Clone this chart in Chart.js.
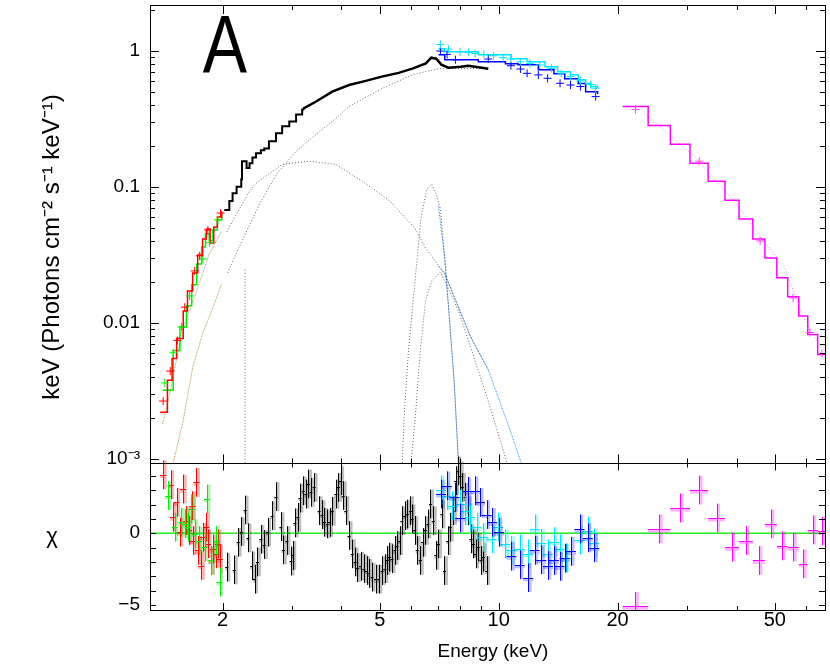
<!DOCTYPE html>
<html lang="en">
<head>
<meta charset="UTF-8">
<title>Spectrum A</title>
<style>
  html, body { margin: 0; padding: 0; background: #fff; }
  #wrap { width: 830px; height: 664px; }
</style>
</head>
<body>
<div id="wrap"><canvas id="specChart" width="830" height="664"></canvas></div>
<script src="https://cdn.jsdelivr.net/npm/chart.js@4.4.1/dist/chart.umd.min.js"></script>
<script>
const FONT = '"Liberation Sans", Arial, sans-serif';

// axis ranges and ticks
const xMin = 1.31, xMax = 67;
const fMin = 0.00092, fMax = 2.17;
const chiMin = -5.35, chiMax = 4.86;
const xMajor = [2, 5, 10, 20, 50];
const xMinor = [3, 4, 6, 7, 8, 9, 30, 40, 60];
const fMajor = [0.001, 0.01, 0.1, 1];
const fLabels = ['10⁻³', '0.01', '0.1', '1'];
const chiMajor = [-5, 0];
const chiLabels = ['−5', '0'];
const chiMinor = [-4, -3, -2, -1, 1, 2, 3, 4];

// --- total models (step starts, last = end) ---
const redModelE = [1.39, 1.45, 1.49, 1.53, 1.59, 1.63, 1.68, 1.73, 1.78, 1.82, 1.86, 1.90, 1.94, 1.99];
const redModelF = [0.00219, 0.00376, 0.00544, 0.00763, 0.0122, 0.0171, 0.0232, 0.0315, 0.0412, 0.0489, 0.0386, 0.0505, 0.0598, 0.066];
const greenModelE = [1.41, 1.50, 1.56, 1.62, 1.67, 1.72, 1.77, 1.81, 1.85, 1.89, 1.94, 1.99];
const greenModelF = [0.00318, 0.00624, 0.0093, 0.0133, 0.019, 0.027, 0.036, 0.045, 0.040, 0.048, 0.057, 0.062];
const blackStepE = [2.02, 2.08, 2.12, 2.17, 2.23, 2.24, 2.30, 2.34, 2.38, 2.43, 2.50, 2.55, 2.62, 2.73, 2.83, 2.95, 3.07, 3.18, 3.20];
const blackStepF = [0.0673, 0.0783, 0.0896, 0.1, 0.1135, 0.154, 0.137, 0.149, 0.164, 0.176, 0.185, 0.191, 0.216, 0.247, 0.278, 0.302, 0.34, 0.37, 0.375];
const blackSmoothE = [3.20, 3.45, 3.79, 4.18, 4.61, 5.06, 5.58, 6.07, 6.54, 6.75, 6.95, 7.16, 7.46, 8.02, 8.38, 9.41];
const blackSmoothF = [0.375, 0.423, 0.50, 0.56, 0.60, 0.645, 0.687, 0.742, 0.807, 0.889, 0.874, 0.79, 0.751, 0.763, 0.776, 0.738];
const cyanModelE = [7.04, 7.3, 8.88, 10.75, 11.8, 13.1, 14.1, 15.2, 15.9, 16.6, 17.1, 17.8];
const cyanModelF = [1.034, 0.983, 0.935, 0.874, 0.83, 0.764, 0.70, 0.667, 0.613, 0.573, 0.545, 0.53];
const blueModelE = [7.04, 7.3, 8.88, 10.4, 11.2, 12.6, 13.8, 14.7, 15.9, 16.6, 17.8];
const blueModelF = [0.935, 0.859, 0.83, 0.803, 0.79, 0.726, 0.678, 0.623, 0.573, 0.50, 0.48];
const magentaEdges = [20.6, 23.9, 27.2, 30.5, 33.9, 37.4, 40.6, 44.0, 47.2, 50.6, 53.9, 57.5, 60.6, 64.2, 67.6];
const magentaModel = [0.389, 0.282, 0.205, 0.149, 0.1097, 0.0796, 0.0578, 0.0412, 0.0299, 0.0214, 0.0155, 0.0112, 0.00817, 0.00583];

// --- model components (dotted) ---
const contE = [2.06, 2.18, 2.48, 2.74, 3.07, 3.45, 3.87, 4.18, 5.06, 6.07, 7.04, 9.41];
const contF = [0.0232, 0.0337, 0.0744, 0.1235, 0.182, 0.2425, 0.318, 0.389, 0.527, 0.667, 0.738, 0.74];
const rgContE = [1.50, 1.59, 1.68, 1.78, 1.89, 1.99];
const rgContF = [0.00093, 0.00191, 0.00468, 0.0083, 0.0129, 0.0193];
const humpE = [2.05, 2.17, 2.34, 2.43, 2.83, 3.31, 3.51, 3.87, 4.51, 5.3, 6.13, 6.53, 7.30, 8.5, 9.41];
const humpF = [0.0465, 0.063, 0.0927, 0.106, 0.146, 0.154, 0.151, 0.146, 0.11, 0.0785, 0.0497, 0.0354, 0.0229, 0.0078, 0.0045];
const rgHumpE = [1.41, 1.47, 1.58, 1.72, 1.85, 1.99];
const rgHumpF = [0.0018, 0.003, 0.0087, 0.0171, 0.032, 0.047];
const bcHumpE = [7.04, 7.30, 8.5, 9.41, 10.75, 11.4];
const bcHumpF = [0.026, 0.0229, 0.0078, 0.0045, 0.00154, 0.00093];
const feLineE = [5.7, 5.76, 5.91, 6.13, 6.36, 6.58, 6.77, 6.95, 7.12, 7.3, 7.5, 7.72, 7.91];
const feLineF = [0.00093, 0.00201, 0.0062, 0.0193, 0.0589, 0.096, 0.104, 0.088, 0.0685, 0.03, 0.0109, 0.00357, 0.00093];
const bcLineE = [7.04, 7.3, 7.5, 7.72, 7.91];
const bcLineF = [0.072, 0.03, 0.0109, 0.00357, 0.00093];
const line2E = [6.0, 6.15, 6.33, 6.53, 6.77, 7.12, 7.5, 7.9, 8.38, 9.41, 10.5];
const line2F = [0.00093, 0.00202, 0.0062, 0.0145, 0.0203, 0.0235, 0.0172, 0.0123, 0.0074, 0.00265, 0.00093];
const narrowE = [2.28, 2.28];
const narrowF = [0.0245, 0.00093];
const magCompE = [23.4, 25.2, 27.9, 31.3, 35.6, 40.0, 44.9, 53.0, 58.5, 65.3];
const magCompF = [0.345, 0.287, 0.223, 0.167, 0.1097, 0.0744, 0.0472, 0.0253, 0.0116, 0.00656];

// --- data points in the spectrum panel ---
const redDataE = [1.414, 1.474, 1.536, 1.604, 1.700, 1.750, 1.836, 1.977];
const redDataF = [0.00265, 0.0044, 0.0074, 0.0130, 0.024, 0.031, 0.048, 0.064];
const greenDataE = [1.428, 1.501, 1.574, 1.650, 1.784, 1.854, 1.946];
const greenDataF = [0.0036, 0.006, 0.0093, 0.0157, 0.0294, 0.0387, 0.057];
const cyanDataE = [7.12, 7.46, 7.98, 8.38, 8.72, 9.17, 9.71, 10.26, 10.74, 11.35, 12.0, 12.7, 13.6, 14.4, 15.2, 16.1, 17.1, 17.6];
const cyanDataF = [1.112, 1.029, 0.983, 0.972, 0.955, 0.94, 0.919, 0.889, 0.869, 0.83, 0.807, 0.786, 0.742, 0.682, 0.645, 0.60, 0.564, 0.53];
const blueDataE = [7.12, 7.4, 7.77, 9.41, 10.74, 11.35, 11.8, 12.6, 13.3, 14.3, 15.2, 16.1, 17.6];
const blueDataF = [0.995, 0.94, 0.859, 0.869, 0.776, 0.734, 0.682, 0.664, 0.627, 0.576, 0.56, 0.545, 0.46];
const magDataE = [22.2, 32.2, 45.9, 55.6, 61.3, 65.8];
const magDataF = [0.37, 0.154, 0.0399, 0.0152, 0.00845, 0.00593];

// --- residuals (chi) ---
const blackResE = [2.05, 2.14, 2.19, 2.23, 2.28, 2.32, 2.37, 2.41, 2.45, 2.50, 2.55, 2.60, 2.67, 2.73, 2.81, 2.85, 2.91, 2.98, 3.01, 3.05,
  3.10, 3.14, 3.20, 3.25, 3.30, 3.35, 3.41, 3.51, 3.57, 3.62, 3.68, 3.73, 3.79, 3.87, 3.93, 3.98, 4.04, 4.10, 4.18, 4.26,
  4.33, 4.39, 4.47, 4.56, 4.63, 4.69, 4.78, 4.88, 4.97, 5.07, 5.15, 5.22, 5.29, 5.37, 5.46, 5.53, 5.61, 5.69, 5.78, 5.87,
  5.98, 6.03, 6.13, 6.22, 6.33, 6.42, 6.52, 6.62, 6.72, 6.83, 6.93, 7.04, 7.18, 7.29, 7.43, 7.54, 7.68, 7.78, 7.87, 7.99,
  8.09, 8.22, 8.38, 8.51, 8.63, 8.74, 8.88, 9.02, 9.14, 9.32];
const blackResChi = [-2.36, -2.55, -0.63, 0.12, 1.62, -0.32, -2.27, -3.2, -2.0, -0.42, -0.79, 0.07, 1.23, 2.55, 0.46, -1.16, -0.51, -1.94, -1.55, 0.72,
  1.11, 2.45, 2.96, 2.73, 3.43, 2.85, 3.19, 1.57, 1.30, 0.76, 0.65, 0.76, 1.53, 2.73, 3.19, 3.66, 2.62, 1.57, -0.16, -1.44,
  -2.0, -2.4, -2.3, -2.47, -2.6, -2.8, -3.06, -3.2, -3.2, -2.6, -2.47, -1.9, -1.67, -1.78, -1.2, -0.86, -0.51, 0.88, 1.23, 1.34,
  1.57, 1.0, 0.19, -1.2, -1.9, -0.63, 0.19, 0.65, 2.04, 0.88, -1.55, -0.74, 1.34, -2.6, -0.51, 0.42, 1.57, 3.66, 4.35, 4.0,
  3.19, 2.5, 1.57, -0.39, -0.74, -1.44, -0.97, -1.9, -1.67, -2.6];
const redResE = [1.414, 1.477, 1.499, 1.529, 1.559, 1.589, 1.620, 1.645, 1.678, 1.683, 1.717, 1.733, 1.767, 1.784, 1.819, 1.837, 1.873, 1.891, 1.928, 1.946, 1.965];
const redResChi = [4.07, 3.38, 1.11, 2.15, 0.07, 3.08, 0.88, 0.19, 1.92, -0.51, 3.54, -1.2, -2.25, -0.28, 0.42, -0.74, -1.9, -1.09, -1.44, -0.74, -1.78];
const greenResE = [1.456, 1.514, 1.574, 1.604, 1.636, 1.668, 1.700, 1.744, 1.802, 1.826, 1.873, 1.928, 1.965];
const greenResChi = [2.62, 0.42, 0.76, 0.65, 0.42, 1.69, -0.05, -0.51, -0.97, 2.38, -1.9, -0.51, -3.4];
const cyanResE = [7.15, 7.39, 7.61, 7.99, 8.22, 8.46, 8.79, 9.14, 9.59, 9.97, 10.40, 10.77, 11.31, 11.87, 12.34, 12.82, 13.33, 13.80, 14.26, 14.82, 16.02, 16.81, 17.47];
const cyanResChi = [3.01, 2.62, 1.92, 2.04, 1.57, 1.11, 0.42, -0.28, -0.39, 0.42, -0.74, -1.2, -1.09, -1.44, 0.3, -0.69, -1.44, -0.58, -1.09, -1.71, -0.46, 0.14, -0.67];
const blueResE = [7.15, 7.39, 7.73, 7.99, 8.35, 8.71, 8.97, 9.32, 9.63, 10.01, 10.77, 11.31, 11.87, 12.34, 12.82, 13.33, 13.80, 14.26, 14.68, 15.25, 16.02, 16.81, 17.47];
const blueResChi = [2.73, 3.31, 2.5, 1.06, 2.92, 2.96, 2.15, 1.3, 0.76, 0.07, -1.6, -2.2, -3.1, -1.2, -1.85, -2.25, -1.9, -2.31, -1.74, -1.27, 0.3, -0.32, -1.02];
const magentaChi = [-5.09, 0.30, 1.76, 3.01, 1.06, -0.97, -0.51, -1.9, 0.65, -0.88, -0.97, -2.13, 0.23, 0.14];

function pts(xs, ys) { return xs.map((v, i) => ({x: v, y: ys[i]})); }
function binPts(edges, vals) {
  const out = vals.map((v, i) => ({x: edges[i], y: v}));
  out.push({x: edges[edges.length - 1], y: vals[vals.length - 1]});
  return out;
}
function binRes(edges, vals) {
  return vals.map((v, i) => ({x: Math.sqrt(edges[i] * edges[i + 1]), y: v, xlo: edges[i], xhi: edges[i + 1]}));
}

function lineDs(data, color, extra) {
  return Object.assign({data, borderColor: color, backgroundColor: color, borderWidth: 1.5,
    pointRadius: 0, fill: false, tension: 0, yAxisID: 'y'}, extra || {});
}
function dotDs(data, color, off) { return lineDs(data, color, {borderWidth: 1, borderDash: [1, 2], borderDashOffset: off || 0}); }
function crossDs(data, color) { return lineDs(data, color, {showLine: false, pointStyle: 'cross', pointRadius: 4, pointBorderWidth: 1}); }
function resDs(data, color, half, shade) { return lineDs(data, color, {showLine: false, yAxisID: 'y2', errBar: {half, shade}}); }

const datasets = [
  // residuals
  resDs(pts(blackResE, blackResChi), '#000', 1.5, 'rgba(0,0,0,0.25)'),
  resDs(pts(redResE, redResChi), '#ff0000', 3, 'rgba(255,0,0,0.3)'),
  resDs(pts(greenResE, greenResChi), '#00ee00', 3, 'rgba(0,230,0,0.3)'),
  resDs(pts(cyanResE, cyanResChi), '#00e5ff', 5, 'rgba(0,230,255,0.3)'),
  resDs(pts(blueResE, blueResChi), '#0000ff', 5, 'rgba(0,0,255,0.25)'),
  resDs(binRes(magentaEdges, magentaChi), '#ff00ff', 0, 'rgba(255,0,255,0.3)'),
  lineDs([{x: xMin, y: 0}, {x: xMax, y: 0}], '#22ee22', {yAxisID: 'y2', borderWidth: 1.5}),
  // data crosses
  crossDs(pts(redDataE, redDataF), '#ff0000'),
  crossDs(pts(greenDataE, greenDataF), '#00ee00'),
  crossDs(pts(cyanDataE, cyanDataF), '#00e5ff'),
  crossDs(pts(blueDataE, blueDataF), '#0000ff'),
  crossDs(pts(magDataE, magDataF), '#ff44ff'),
  // models
  lineDs(pts(blackStepE, blackStepF), '#000', {stepped: true, borderWidth: 2}),
  lineDs(pts(blackSmoothE, blackSmoothF), '#000', {borderWidth: 2.5}),
  lineDs(pts(redModelE, redModelF), '#ff0000', {stepped: true}),
  lineDs(pts(greenModelE, greenModelF), '#00ee00', {stepped: true}),
  lineDs(pts(cyanModelE, cyanModelF), '#00e5ff', {stepped: true}),
  lineDs(pts(blueModelE, blueModelF), '#0000ff', {stepped: true}),
  lineDs(binPts(magentaEdges, magentaModel), '#ff00ff', {stepped: true}),
  // components
  dotDs(pts(contE, contF), 'rgba(0,0,0,0.6)'),
  dotDs(pts(humpE, humpF), 'rgba(0,0,0,0.6)'),
  dotDs(pts(feLineE, feLineF), 'rgba(0,0,0,0.6)'),
  dotDs(pts(line2E, line2F), 'rgba(0,0,0,0.6)'),
  dotDs(pts(narrowE, narrowF), 'rgba(0,0,0,0.6)'),
  dotDs(pts(rgContE, rgContF), 'rgba(255,0,0,0.55)'),
  dotDs(pts(rgContE, rgContF), 'rgba(0,220,0,0.55)', 1.5),
  dotDs(pts(rgHumpE, rgHumpF), 'rgba(255,0,0,0.55)'),
  dotDs(pts(rgHumpE, rgHumpF), 'rgba(0,220,0,0.55)', 1.5),
  dotDs(pts(bcHumpE, bcHumpF), 'rgba(0,0,255,0.6)'),
  dotDs(pts(bcHumpE, bcHumpF), 'rgba(0,220,255,0.7)', 1.5),
  dotDs(pts(bcLineE, bcLineF), 'rgba(0,0,255,0.6)'),
  dotDs(pts(bcLineE, bcLineF), 'rgba(0,220,255,0.7)', 1.5),
  dotDs(pts(magCompE, magCompF), 'rgba(255,0,255,0.55)')
];

function crisp(v) { return Math.round(v) + 0.5; }
function noPad(s) { s.paddingTop = 0; s.paddingBottom = 0; s.paddingLeft = 0; s.paddingRight = 0; }

const decor = {
  id: 'decor',
  afterDatasetsDraw(chart) {
    const {ctx, scales: {x, y, y2}} = chart;
    ctx.save();
    ctx.beginPath();
    ctx.rect(x.left, y.top, x.right - x.left, y2.bottom - y.top);
    ctx.clip();
    chart.data.datasets.forEach(ds => {
      if (!ds.errBar) return;
      const eb = ds.errBar;
      ds.data.forEach(p => {
        const px = x.getPixelForValue(p.x);
        const py = y2.getPixelForValue(p.y);
        const yt = y2.getPixelForValue(p.y + 1), yb = y2.getPixelForValue(p.y - 1);
        let xl = px - eb.half, xr = px + eb.half;
        if (p.xlo !== undefined) { xl = x.getPixelForValue(p.xlo); xr = x.getPixelForValue(p.xhi); }
        if (eb.shade) {
          ctx.strokeStyle = eb.shade;
          ctx.lineWidth = 3;
          ctx.beginPath();
          ctx.moveTo(px + 2, yt); ctx.lineTo(px + 2, yb);
          ctx.moveTo(xl, py + 2); ctx.lineTo(xr, py + 2);
          ctx.stroke();
        }
        ctx.strokeStyle = ds.borderColor;
        ctx.lineWidth = 1;
        ctx.beginPath();
        ctx.moveTo(crisp(px), yt); ctx.lineTo(crisp(px), yb);
        ctx.moveTo(xl, crisp(py)); ctx.lineTo(xr, crisp(py));
        ctx.stroke();
      });
    });
    ctx.restore();
  },
  afterDraw(chart) {
    const {ctx, scales: {x, y, y2}} = chart;
    ctx.save();
    ctx.strokeStyle = '#000';
    ctx.lineWidth = 1;
    // panel frames
    ctx.strokeRect(crisp(x.left), crisp(y.top), Math.round(x.right - x.left), Math.round(y.bottom - y.top));
    ctx.strokeRect(crisp(x.left), crisp(y2.top), Math.round(x.right - x.left), Math.round(y2.bottom - y2.top));

    const tick = (x1, y1, x2, y2_) => { ctx.moveTo(x1, y1); ctx.lineTo(x2, y2_); };
    ctx.beginPath();
    // x ticks on all horizontal edges
    const xt = xMajor.map(v => [v, true]).concat(xMinor.map(v => [v, false]));
    xt.forEach(([v, major]) => {
      const px = crisp(x.getPixelForValue(v));
      const lt = major ? 9 : 5, lb = major ? 7 : 4;
      tick(px, y.top, px, y.top + lt);
      tick(px, y.bottom, px, y.bottom - lt);
      tick(px, y2.top, px, y2.top + lb);
      tick(px, y2.bottom, px, y2.bottom - lb);
    });
    // log y ticks
    const fTicks = fMajor.map(v => [v, true]);
    for (let n = -3; n <= 0; n++) {
      for (let k = 2; k <= 9; k++) {
        const v = k * Math.pow(10, n);
        if (v >= fMin && v <= fMax) fTicks.push([v, false]);
      }
    }
    fTicks.forEach(([v, major]) => {
      const py = crisp(y.getPixelForValue(v));
      const l = major ? 9 : 5;
      tick(x.left, py, x.left + l, py);
      tick(x.right, py, x.right - l, py);
    });
    // chi ticks
    chiMajor.concat(chiMinor).forEach(v => {
      const py = crisp(y2.getPixelForValue(v));
      tick(x.left, py, x.left + 6, py);
      tick(x.right, py, x.right - 6, py);
    });
    ctx.stroke();

    // texts
    ctx.fillStyle = '#000';
    ctx.textAlign = 'center';
    ctx.textBaseline = 'middle';
    ctx.font = '19px ' + FONT;
    ctx.fillText('Energy (keV)', 493, 652);
    ctx.font = '22px ' + FONT;
    ctx.fillText('χ', 52, 537);
    ctx.save();
    ctx.translate(52, 247);
    ctx.rotate(-Math.PI / 2);
    ctx.font = '24px ' + FONT;
    ctx.fillText('keV (Photons cm⁻² s⁻¹ keV⁻¹)', 0, 0);
    ctx.restore();
    ctx.save();
    ctx.translate(225, 72);
    ctx.scale(0.82, 1);
    ctx.textBaseline = 'alphabetic';
    ctx.font = '81px ' + FONT;
    ctx.fillText('A', 0, 0);
    ctx.restore();
    ctx.restore();
  }
};

new Chart(document.getElementById('specChart'), {
  type: 'line',
  data: {datasets},
  options: {
    responsive: false,
    animation: false,
    layout: {padding: {top: 3, right: 2, left: 0, bottom: 0}},
    plugins: {legend: {display: false}, tooltip: {enabled: false}},
    scales: {
      x: {
        type: 'logarithmic', position: 'bottom', min: xMin, max: xMax,
        grid: {display: false, drawTicks: false}, border: {display: false},
        afterBuildTicks: s => { s.ticks = xMajor.map(v => ({value: v})); },
        afterFit: s => { s.height = 54; noPad(s); },
        ticks: {autoSkip: false, maxRotation: 0, padding: -2, color: '#000',
          font: {family: FONT, size: 20}, callback: v => String(v)}
      },
      y2: {
        type: 'linear', position: 'left', stack: 'panels', stackWeight: 147,
        min: chiMin, max: chiMax,
        grid: {display: false, drawTicks: false}, border: {display: false},
        afterBuildTicks: s => { s.ticks = chiMajor.map(v => ({value: v})); },
        afterFit: s => { s.width = 150; noPad(s); },
        ticks: {autoSkip: false, padding: 10, color: '#000',
          font: {family: FONT, size: 19}, callback: (v, i) => chiLabels[i]}
      },
      y: {
        type: 'logarithmic', position: 'left', stack: 'panels', stackWeight: 460,
        min: fMin, max: fMax,
        grid: {display: false, drawTicks: false}, border: {display: false},
        afterBuildTicks: s => { s.ticks = fMajor.map(v => ({value: v})); },
        afterFit: s => { s.width = 150; noPad(s); },
        ticks: {autoSkip: false, padding: 10, color: '#000',
          font: {family: FONT, size: 19}, callback: (v, i) => fLabels[i]}
      }
    }
  },
  plugins: [decor]
});
</script>
</body>
</html>
